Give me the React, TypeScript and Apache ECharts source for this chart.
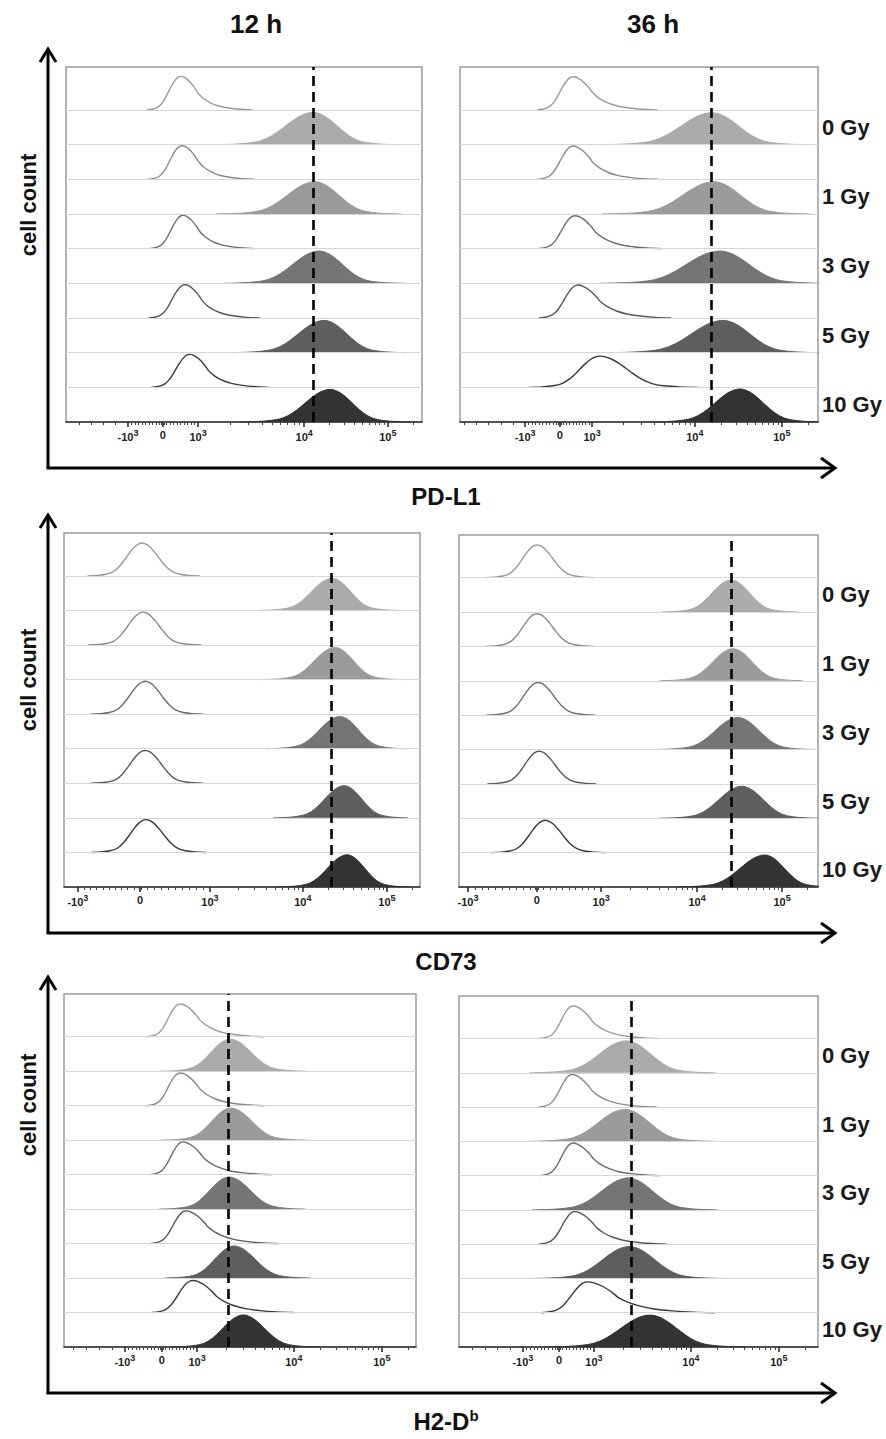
import React, { useEffect, useRef } from "react";
import * as echarts from "echarts";

const FONT = "'Liberation Sans', Arial, Helvetica, sans-serif";

// ---------- labels ----------
const DOSES = ["0 Gy", "1 Gy", "3 Gy", "5 Gy", "10 Gy"];
const TIMES = ["12 h", "36 h"];
const MARKERS = ["PD-L1", "CD73", "H2-D"];
const TICK_BASE = ["-10", "0", "10", "10", "10"];
const TICK_EXP = ["3", "", "3", "4", "5"];

// ---------- histogram shapes (offset in half-widths, relative count) ----------
const PEAK_X = [-3.2, -2.6, -2.1, -1.7, -1.35, -1, -0.7, -0.4, -0.15, 0, 0.15, 0.4, 0.7, 1, 1.35, 1.7, 2.1, 2.6, 3.2];
const PEAK_Y = [0, 0.015, 0.05, 0.12, 0.27, 0.5, 0.72, 0.9, 0.985, 1, 0.985, 0.9, 0.72, 0.5, 0.27, 0.12, 0.05, 0.015, 0];
const TAIL_X = [-2.6, -2.1, -1.7, -1.35, -1, -0.7, -0.4, -0.15, 0, 0.2, 0.5, 0.8, 1, 1.3, 1.7, 2.2, 2.8, 3.5, 4.2];
const TAIL_Y = [0, 0.03, 0.1, 0.25, 0.5, 0.73, 0.91, 0.99, 1, 0.97, 0.85, 0.66, 0.5, 0.35, 0.22, 0.12, 0.06, 0.02, 0];

// ---------- colours per dose ----------
const FILL_COLORS = ["#ababab", "#9b9b9b", "#757575", "#5e5e5e", "#333333"];
const CTRL_COLORS = ["#9a9a9a", "#8a8a8a", "#6c6c6c", "#575757", "#383838"];

// ---------- Panel 1: PD-L1, 12 h (display channels 0-1000) ----------
const P1_TICKS = [174, 272, 371, 669, 904];
const P1_REF = 694;
const P1_CTRL_PEAK = [323, 326, 329, 334, 348];
const P1_CTRL_L = [37, 37, 37, 39, 42];
const P1_CTRL_R = [48, 48, 48, 50, 53];
const P1_CTRL_H = [0.97, 0.97, 0.96, 0.96, 0.95];
const P1_CTRL_TAIL = [1, 1, 1, 1, 1];
const P1_FILL_PEAK = [694, 699, 711, 725, 742];
const P1_FILL_L = [87, 87, 84, 82, 79];
const P1_FILL_R = [76, 76, 74, 72, 70];
const P1_FILL_H = [0.93, 0.93, 0.93, 0.93, 0.94];

// ---------- Panel 2: PD-L1, 36 h ----------
const P2_TICKS = [182, 279, 369, 656, 899];
const P2_REF = 701;
const P2_CTRL_PEAK = [316, 316, 321, 330, 390];
const P2_CTRL_L = [39, 39, 40, 42, 62];
const P2_CTRL_R = [56, 56, 58, 62, 86];
const P2_CTRL_H = [0.96, 0.96, 0.95, 0.95, 0.9];
const P2_CTRL_TAIL = [1, 1, 1, 1, 0];
const P2_FILL_PEAK = [704, 709, 726, 735, 782];
const P2_FILL_L = [98, 98, 106, 100, 78];
const P2_FILL_R = [84, 84, 92, 84, 73];
const P2_FILL_H = [0.92, 0.93, 0.93, 0.93, 0.95];

// ---------- Panel 3: CD73, 12 h ----------
const P3_TICKS = [39, 214, 410, 671, 907];
const P3_REF = 750;
const P3_CTRL_PEAK = [219, 222, 228, 228, 230];
const P3_CTRL_L = [48, 48, 48, 48, 48];
const P3_CTRL_R = [51, 51, 51, 51, 53];
const P3_CTRL_H = [0.95, 0.95, 0.95, 0.95, 0.95];
const P3_CTRL_TAIL = [0, 0, 0, 0, 0];
const P3_FILL_PEAK = [753, 761, 775, 787, 795];
const P3_FILL_L = [65, 65, 65, 62, 62];
const P3_FILL_R = [59, 59, 59, 56, 56];
const P3_FILL_H = [0.93, 0.93, 0.93, 0.93, 0.93];

// ---------- Panel 4: CD73, 36 h ----------
const P4_TICKS = [25, 217, 396, 663, 900];
const P4_REF = 758;
const P4_CTRL_PEAK = [217, 217, 220, 223, 240];
const P4_CTRL_L = [45, 45, 45, 45, 47];
const P4_CTRL_R = [50, 50, 50, 50, 52];
const P4_CTRL_H = [0.95, 0.95, 0.95, 0.95, 0.94];
const P4_CTRL_TAIL = [0, 0, 0, 0, 0];
const P4_FILL_PEAK = [758, 763, 777, 788, 852];
const P4_FILL_L = [61, 64, 72, 72, 78];
const P4_FILL_R = [59, 61, 67, 67, 61];
const P4_FILL_H = [0.93, 0.93, 0.93, 0.93, 0.93];

// ---------- Panel 5: H2-Db, 12 h ----------
const P5_TICKS = [173, 278, 378, 653, 903];
const P5_REF = 466;
const P5_CTRL_PEAK = [330, 330, 338, 347, 366];
const P5_CTRL_L = [37, 37, 37, 40, 45];
const P5_CTRL_R = [57, 57, 60, 63, 68];
const P5_CTRL_H = [0.95, 0.95, 0.95, 0.95, 0.93];
const P5_CTRL_TAIL = [1, 1, 1, 1, 1];
const P5_FILL_PEAK = [472, 474, 469, 483, 509];
const P5_FILL_L = [62, 62, 62, 62, 65];
const P5_FILL_R = [68, 68, 68, 68, 68];
const P5_FILL_H = [0.93, 0.93, 0.93, 0.93, 0.93];

// ---------- Panel 6: H2-Db, 36 h ----------
const P6_TICKS = [178, 279, 376, 646, 891];
const P6_REF = 479;
const P6_CTRL_PEAK = [318, 315, 318, 323, 359];
const P6_CTRL_L = [36, 36, 36, 39, 50];
const P6_CTRL_R = [56, 56, 58, 61, 84];
const P6_CTRL_H = [0.95, 0.95, 0.95, 0.95, 0.9];
const P6_CTRL_TAIL = [1, 1, 1, 1, 1];
const P6_FILL_PEAK = [465, 462, 471, 474, 532];
const P6_FILL_L = [84, 84, 84, 84, 92];
const P6_FILL_R = [78, 78, 78, 81, 84];
const P6_FILL_H = [0.93, 0.93, 0.93, 0.93, 0.93];

const PANELS = [
  { ticks: P1_TICKS, ref: P1_REF, cp: P1_CTRL_PEAK, cl: P1_CTRL_L, cr: P1_CTRL_R, ch: P1_CTRL_H, ct: P1_CTRL_TAIL, fp: P1_FILL_PEAK, fl: P1_FILL_L, fr: P1_FILL_R, fh: P1_FILL_H },
  { ticks: P2_TICKS, ref: P2_REF, cp: P2_CTRL_PEAK, cl: P2_CTRL_L, cr: P2_CTRL_R, ch: P2_CTRL_H, ct: P2_CTRL_TAIL, fp: P2_FILL_PEAK, fl: P2_FILL_L, fr: P2_FILL_R, fh: P2_FILL_H },
  { ticks: P3_TICKS, ref: P3_REF, cp: P3_CTRL_PEAK, cl: P3_CTRL_L, cr: P3_CTRL_R, ch: P3_CTRL_H, ct: P3_CTRL_TAIL, fp: P3_FILL_PEAK, fl: P3_FILL_L, fr: P3_FILL_R, fh: P3_FILL_H },
  { ticks: P4_TICKS, ref: P4_REF, cp: P4_CTRL_PEAK, cl: P4_CTRL_L, cr: P4_CTRL_R, ch: P4_CTRL_H, ct: P4_CTRL_TAIL, fp: P4_FILL_PEAK, fl: P4_FILL_L, fr: P4_FILL_R, fh: P4_FILL_H },
  { ticks: P5_TICKS, ref: P5_REF, cp: P5_CTRL_PEAK, cl: P5_CTRL_L, cr: P5_CTRL_R, ch: P5_CTRL_H, ct: P5_CTRL_TAIL, fp: P5_FILL_PEAK, fl: P5_FILL_L, fr: P5_FILL_R, fh: P5_FILL_H },
  { ticks: P6_TICKS, ref: P6_REF, cp: P6_CTRL_PEAK, cl: P6_CTRL_L, cr: P6_CTRL_R, ch: P6_CTRL_H, ct: P6_CTRL_TAIL, fp: P6_FILL_PEAK, fl: P6_FILL_L, fr: P6_FILL_R, fh: P6_FILL_H },
];

const GRIDS = [
  { left: 66, top: 67, width: 356, height: 355 },
  { left: 460, top: 67, width: 358, height: 355 },
  { left: 64, top: 533, width: 356, height: 354 },
  { left: 459, top: 535, width: 359, height: 352 },
  { left: 64, top: 994, width: 352, height: 353 },
  { left: 459, top: 996, width: 359, height: 351 },
];

function shapeCurve(peak: number, l: number, r: number, h: number, tail: number, base: number) {
  const xs = tail ? TAIL_X : PEAK_X;
  const ys = tail ? TAIL_Y : PEAK_Y;
  return xs.map((o, k) => [peak + o * (o < 0 ? l : r), base + h * ys[k]]);
}

function minorTicks(t: number[]) {
  const [pm, p0, p3, p4, p5] = t;
  const out: number[] = [];
  const neg = p0 - pm;
  const pos = p3 - p0;
  for (let k = 1; k <= 9; k++) {
    out.push(p0 - (neg * k) / 10);
    out.push(p0 + (pos * k) / 10);
  }
  for (let k = 1; k <= 6; k++) {
    const v = pm - k * neg * 0.35;
    if (v > 3) out.push(v);
  }
  for (let k = 2; k <= 9; k++) {
    out.push(p3 + Math.log10(k) * (p4 - p3));
    out.push(p4 + Math.log10(k) * (p5 - p4));
    const v = p5 + Math.log10(k) * (p5 - p4);
    if (v < 997) out.push(v);
  }
  out.push(p0 - 2, p0 + 2, p0 - 4, p0 + 4);
  return out;
}

function buildOption() {
  const grid: any[] = [];
  const xAxis: any[] = [];
  const yAxis: any[] = [];
  const series: any[] = [];

  PANELS.forEach((p, i) => {
    grid.push({ ...GRIDS[i], show: true, borderColor: "#9a9a9a", borderWidth: 1.5, backgroundColor: "transparent" });
    xAxis.push({
      type: "value", gridIndex: i, min: 0, max: 1000, position: "bottom",
      axisLine: { show: true, onZero: false, lineStyle: { color: "#333", width: 1.5 } },
      axisTick: { show: true, customValues: p.ticks, length: 5, lineStyle: { color: "#222", width: 1.5 } },
      axisLabel: {
        show: true, customValues: p.ticks, margin: 6,
        formatter: (v: number) => {
          const j = p.ticks.findIndex((t) => Math.abs(t - v) < 0.5);
          if (j < 0) return "";
          return TICK_EXP[j] ? `{b|${TICK_BASE[j]}}{s|${TICK_EXP[j]}}` : `{b|${TICK_BASE[j]}}`;
        },
        rich: {
          b: { fontSize: 11, fontWeight: "bold", color: "#222", fontFamily: FONT, lineHeight: 13 },
          s: { fontSize: 9, fontWeight: "bold", color: "#222", fontFamily: FONT, padding: [0, 0, 9, 0] },
        },
      },
      splitLine: { show: false },
    });
    xAxis.push({
      type: "value", gridIndex: i, min: 0, max: 1000, position: "bottom",
      axisLine: { show: false },
      axisTick: { show: true, customValues: minorTicks(p.ticks), length: 3, lineStyle: { color: "#444", width: 1 } },
      axisLabel: { show: false },
      splitLine: { show: false },
    });
    yAxis.push({
      type: "value", gridIndex: i, min: 0, max: 10.24, position: "right",
      axisLine: { show: false }, axisTick: { show: false }, splitLine: { show: false },
      axisLabel: {
        show: i % 2 === 1, customValues: [8.5, 6.5, 4.5, 2.5, 0.5], margin: 4, align: "left",
        fontSize: 22, fontWeight: "bold", color: "#1a1a1a", fontFamily: FONT,
        formatter: (v: number) => DOSES[Math.round((8.5 - v) / 2)] || "",
      },
    });

    // row separators
    series.push({
      type: "line", xAxisIndex: 2 * i, yAxisIndex: i, data: [], silent: true, z: 1,
      markLine: {
        silent: true, symbol: ["none", "none"], label: { show: false }, animation: false,
        lineStyle: { color: "#d6d6d6", width: 1, type: "solid" },
        emphasis: { disabled: true },
        data: [1, 2, 3, 4, 5, 6, 7, 8, 9].map((v) => ({ yAxis: v })),
      },
    });

    for (let d = 0; d < 5; d++) {
      const cBase = 9 - 2 * d;
      const fBase = 8 - 2 * d;
      series.push({
        type: "line", xAxisIndex: 2 * i, yAxisIndex: i, silent: true, z: 3,
        symbol: "none", smooth: 0.35,
        data: shapeCurve(p.cp[d], p.cl[d], p.cr[d], p.ch[d], p.ct[d], cBase),
        lineStyle: { color: CTRL_COLORS[d], width: 1.4 },
      });
      series.push({
        type: "line", xAxisIndex: 2 * i, yAxisIndex: i, silent: true, z: 2,
        symbol: "none", smooth: 0.35,
        data: shapeCurve(p.fp[d], p.fl[d], p.fr[d], p.fh[d], 0, fBase),
        lineStyle: { color: FILL_COLORS[d], width: 1 },
        areaStyle: { color: FILL_COLORS[d], opacity: 1, origin: fBase },
      });
    }

    // reference dashed line
    series.push({
      type: "line", xAxisIndex: 2 * i, yAxisIndex: i, data: [], silent: true, z: 10,
      markLine: {
        silent: true, symbol: ["none", "none"], label: { show: false }, animation: false,
        lineStyle: { color: "#000", width: 2.6, type: [10, 6] },
        emphasis: { disabled: true },
        data: [{ xAxis: p.ref }],
      },
    });
  });

  const ARROWS = [
    { tip: 49, corner: 468, title: 496, cell: 205 },
    { tip: 515, corner: 933, title: 961, cell: 680 },
    { tip: 977, corner: 1393, title: 1421, cell: 1105 },
  ];
  const graphic: any[] = [];
  ARROWS.forEach((a, i) => {
    graphic.push({ type: "line", shape: { x1: 48, y1: a.tip + 1, x2: 48, y2: a.corner }, style: { stroke: "#000", lineWidth: 3 } });
    graphic.push({ type: "line", shape: { x1: 46.5, y1: a.corner, x2: 834, y2: a.corner }, style: { stroke: "#000", lineWidth: 3 } });
    graphic.push({ type: "polyline", shape: { points: [[40, a.tip + 13], [48, a.tip], [56, a.tip + 13]] }, style: { stroke: "#000", lineWidth: 3, fill: null } });
    graphic.push({ type: "polyline", shape: { points: [[821, a.corner - 10], [835, a.corner], [821, a.corner + 10]] }, style: { stroke: "#000", lineWidth: 3, fill: null } });
    graphic.push({
      type: "text", x: 28, y: a.cell, rotation: Math.PI / 2,
      style: { text: "cell count", font: `bold 22px ${FONT}`, fill: "#111", align: "center", verticalAlign: "middle" },
    });
    if (i < 2) {
      graphic.push({
        type: "text", x: 446, y: a.title,
        style: { text: MARKERS[i], font: `bold 24px ${FONT}`, fill: "#111", align: "center", verticalAlign: "middle" },
      });
    } else {
      graphic.push({
        type: "text", x: 446, y: a.title,
        style: {
          text: `{t|${MARKERS[i]}}{s|b}`, align: "center", verticalAlign: "middle",
          rich: {
            t: { font: `bold 24px ${FONT}`, fill: "#111" },
            s: { font: `bold 15px ${FONT}`, fill: "#111", padding: [0, 0, 12, 0] },
          },
        },
      });
    }
  });
  graphic.push({ type: "text", x: 256, y: 24, style: { text: TIMES[0], font: `bold 26px ${FONT}`, fill: "#111", align: "center", verticalAlign: "middle" } });
  graphic.push({ type: "text", x: 653, y: 24, style: { text: TIMES[1], font: `bold 26px ${FONT}`, fill: "#111", align: "center", verticalAlign: "middle" } });

  return {
    animation: false,
    backgroundColor: "#ffffff",
    textStyle: { fontFamily: FONT },
    grid, xAxis, yAxis, series, graphic,
  };
}

export default function App() {
  const ref = useRef<HTMLDivElement>(null);
  useEffect(() => {
    document.body.style.margin = "0";
    const chart = echarts.init(ref.current!, undefined, { renderer: "svg" });
    chart.setOption(buildOption() as any);
    return () => chart.dispose();
  }, []);
  return <div ref={ref} style={{ position: "absolute", left: 0, top: 0, width: 886, height: 1439 }} />;
}
